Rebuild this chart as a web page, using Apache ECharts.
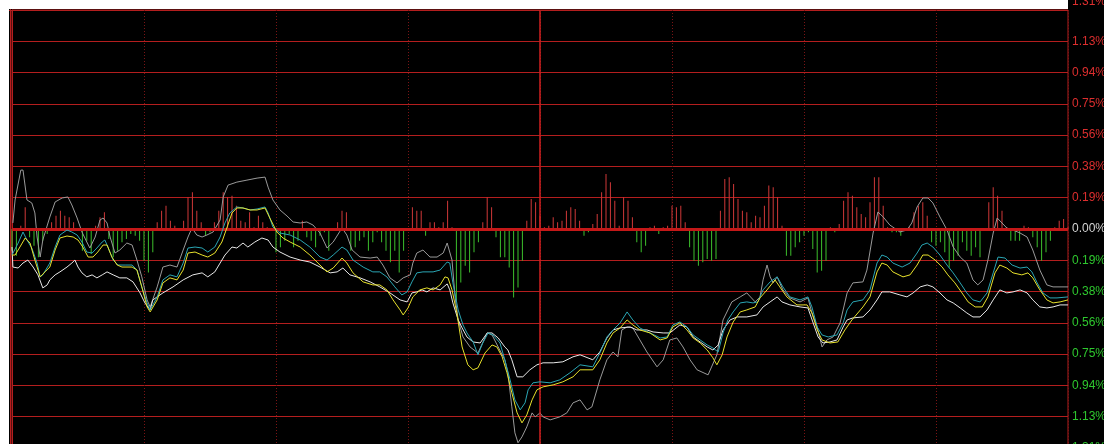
<!DOCTYPE html>
<html><head><meta charset="utf-8">
<script src="https://cdn.jsdelivr.net/npm/echarts@6/dist/echarts.min.js"></script>
<style>html,body{margin:0;padding:0;background:#000;overflow:hidden;}#c{width:1104px;height:444px;}</style>
</head><body><div id="c"></div>
<script>
// y-axis tick labels (percent, shown as magnitudes), top to bottom
const tickLabels = ['1.31%','1.13%','0.94%','0.75%','0.56%','0.38%','0.19%','0.00%','0.19%','0.38%','0.56%','0.75%','0.94%','1.13%','1.31%'];
const tickValues = [1.3125,1.125,0.9375,0.75,0.5625,0.375,0.1875,0,-0.1875,-0.375,-0.5625,-0.75,-0.9375,-1.125,-1.3125];

// per-minute bars (0..240)
const barValues = [
-.13,-.16,.02,.13,-.05,-.10,-.17,-.07,-.03,.04,.08,.11,.08,.07,.04,-.01,-.13,-.07,-.15,.02,
.07,.10,-.06,-.17,-.13,-.08,-.06,-.03,-.04,-.07,-.19,-.26,-.14,.04,.11,.14,.05,.02,-.01,.05,
.19,.22,.11,.04,-.04,-.02,.04,.11,.22,.19,.20,.14,.05,.04,.10,.01,.08,.04,.01,-.01,
-.14,-.11,-.07,-.03,-.11,-.07,.05,-.05,-.07,-.11,-.04,-.02,-.13,0,.04,.11,.10,-.13,-.11,-.07,
-.05,-.13,-.08,-.02,-.08,-.13,-.20,-.13,-.26,-.13,-.01,.13,.11,.11,-.04,.04,.04,.01,.04,.17,
.01,-.43,-.32,-.22,-.26,-.14,-.08,.04,.19,.13,-.05,-.17,-.17,-.23,-.41,-.35,-.19,.05,.18,.16,
.08,.01,.02,.07,.04,.05,.11,.13,.12,.05,-.04,-.02,.03,.09,.22,.33,.28,.17,.02,.19,
.17,.07,-.08,-.14,-.10,.01,.02,-.03,.01,.02,.14,.13,.14,.04,-.11,-.19,-.22,-.20,-.18,-.19,
-.18,.11,.30,.31,.27,.18,.11,.10,.04,.08,.07,.14,.26,.25,.19,.02,-.16,-.16,-.11,-.08,
-.04,-.02,-.12,-.26,-.25,-.19,.01,-.02,.03,.17,.22,.20,.13,.09,.07,.16,.31,.31,.14,.01,
-.02,-.02,-.04,-.01,.01,.10,.14,.16,.08,-.08,-.10,-.08,-.14,-.23,-.19,-.16,-.08,-.13,-.16,-.11,
-.17,-.01,.16,.25,.20,.11,.01,-.07,-.07,-.07,.02,.01,-.05,-.11,-.19,-.14,-.07,.01,.05,.06,
.01
];

const grayLine = [[0.2,.036],[0.7,.174],[2.0,.353],[2.5,.353],[3.4,.174],[4.5,.156],[5.2,.096],[5.7,-.048],[6.4,-.168],[7.0,-.066],[8.6,.072],[9.8,.162],[11.4,.186],[12.7,.192],[13.6,.144],[14.8,.066],[15.9,-.018],[17.0,-.078],[17.7,-.114],[18.9,-.048],[20.0,.054],[20.7,.066],[21.6,.036],[22.3,-.048],[23.4,-.144],[24.5,-.126],[26.1,-.084],[27.3,-.096],[28.4,-.186],[29.5,-.287],[30.7,-.425],[31.4,-.467],[33.0,-.347],[34.3,-.228],[35.9,-.216],[37.5,-.228],[38.9,-.126],[40.0,-.048],[40.9,.006],[42.0,-.036],[43.2,-.048],[44.3,-.036],[45.7,-.018],[47.3,.054],[48.0,.192],[49.1,.263],[51.1,.281],[53.4,.293],[55.7,.305],[57.5,.311],[58.2,.251],[59.3,.174],[60.9,.114],[62.5,.078],[63.9,.042],[65.5,.036],[67.0,.042],[68.4,.024],[70.0,-.024],[71.6,-.114],[73.0,-.078],[75.0,.006],[76.1,-.036],[77.3,-.126],[79.1,-.168],[81.4,-.174],[83.0,-.168],[84.3,-.216],[85.9,-.293],[87.5,-.323],[88.9,-.293],[90.5,-.275],[91.1,-.204],[92.0,-.144],[93.4,-.126],[95.0,-.168],[96.6,-.168],[98.0,-.144],[98.9,-.084],[100.0,-.186],[100.7,-.407],[101.4,-.545],[102.5,-.647],[104.1,-.707],[105.9,-.743],[108.0,-.623],[109.1,-.635],[110.5,-.707],[112.0,-.784],[112.7,-.862],[113.6,-1.066],[114.3,-1.222],[115.0,-1.281],[115.9,-1.246],[117.0,-1.186],[118.2,-1.102],[118.9,-1.126],[120.0,-1.102],[120.7,-1.126],[122.3,-1.144],[124.5,-1.126],[126.1,-1.102],[127.5,-1.042],[129.1,-1.024],[130.7,-1.084],[131.8,-1.066],[133.6,-.904],[135.2,-.784],[136.6,-.737],[137.7,-.766],[138.6,-.605],[139.8,-.587],[141.1,-.593],[142.7,-.665],[144.3,-.737],[146.6,-.826],[148.0,-.784],[149.5,-.665],[151.1,-.653],[152.5,-.707],[154.1,-.784],[155.7,-.844],[158.2,-.874],[160.2,-.754],[161.6,-.545],[163.6,-.437],[165.5,-.407],[167.0,-.383],[168.9,-.437],[170.0,-.407],[170.7,-.305],[171.6,-.216],[172.3,-.287],[173.0,-.323],[173.9,-.287],[175.2,-.365],[176.8,-.413],[179.1,-.437],[180.9,-.413],[181.8,-.503],[183.0,-.587],[184.1,-.707],[185.2,-.665],[186.6,-.647],[188.2,-.563],[189.8,-.383],[191.1,-.323],[193.4,-.317],[194.3,-.246],[195.7,-.024],[196.8,.102],[198.0,.072],[199.5,.024],[201.8,-.018],[203.4,-.006],[204.5,.036],[205.7,.132],[207.0,.186],[208.2,.186],[209.3,.156],[210.9,.072],[212.5,-.006],[213.9,-.108],[215.5,-.168],[217.0,-.204],[218.4,-.305],[219.5,-.335],[220.7,-.305],[221.8,-.186],[223.0,-.024],[223.9,.066],[225.0,.036],[226.1,.006],[227.5,-.006],[229.1,-.024],[230.7,-.048],[232.0,-.126],[233.6,-.246],[235.2,-.335],[236.6,-.347],[240,-.347]];

const whiteLine = [[0,-.108],[0.2,-.228],[1.4,-.234],[2.5,-.204],[3.6,-.186],[4.8,-.228],[5.9,-.275],[7.0,-.353],[8.0,-.335],[8.6,-.305],[9.8,-.275],[10.9,-.257],[12.5,-.228],[13.6,-.204],[14.3,-.186],[15.0,-.228],[15.9,-.263],[17.0,-.287],[18.2,-.275],[19.3,-.293],[20.5,-.275],[21.6,-.257],[23.0,-.275],[24.5,-.293],[26.1,-.293],[27.5,-.317],[29.1,-.383],[30.2,-.443],[31.4,-.485],[32.0,-.425],[34.3,-.383],[36.6,-.347],[38.9,-.305],[41.1,-.275],[43.2,-.263],[44.5,-.287],[46.1,-.257],[47.3,-.204],[48.4,-.156],[50.0,-.108],[51.1,-.114],[52.5,-.084],[53.6,-.108],[55.2,-.078],[56.8,-.054],[58.2,-.066],[59.3,-.108],[60.9,-.138],[63.2,-.168],[65.5,-.186],[67.7,-.198],[70.0,-.228],[72.3,-.263],[73.9,-.257],[75.2,-.234],[76.8,-.275],[79.1,-.293],[81.4,-.317],[83.6,-.347],[85.9,-.383],[88.2,-.425],[89.8,-.437],[90.9,-.383],[92.0,-.377],[93.2,-.365],[94.3,-.377],[95.7,-.353],[97.3,-.365],[98.9,-.329],[99.5,-.365],[100.2,-.443],[101.4,-.545],[102.3,-.593],[103.4,-.647],[104.8,-.677],[106.4,-.683],[108.0,-.623],[109.1,-.623],[110.5,-.653],[112.0,-.707],[112.7,-.725],[113.6,-.784],[114.8,-.886],[116.1,-.886],[117.7,-.844],[119.3,-.814],[120.7,-.802],[123.0,-.802],[125.2,-.796],[127.5,-.766],[129.1,-.754],[132.0,-.784],[133.6,-.737],[135.2,-.653],[136.6,-.605],[138.2,-.593],[140.5,-.587],[142.0,-.605],[144.3,-.605],[145.7,-.617],[148.0,-.623],[149.5,-.623],[151.8,-.575],[153.4,-.587],[154.8,-.647],[156.4,-.677],[158.0,-.707],[159.3,-.725],[160.5,-.695],[161.6,-.605],[163.2,-.545],[164.8,-.527],[167.0,-.527],[169.3,-.515],[170.7,-.467],[172.3,-.437],[173.9,-.407],[175.0,-.437],[176.8,-.455],[179.1,-.467],[180.9,-.473],[182.0,-.557],[183.2,-.647],[184.3,-.683],[185.9,-.677],[187.5,-.665],[188.9,-.587],[189.8,-.545],[191.1,-.533],[193.4,-.527],[195.0,-.485],[196.6,-.425],[197.7,-.377],[199.5,-.377],[201.8,-.395],[203.4,-.407],[204.8,-.383],[206.4,-.347],[208.0,-.335],[209.3,-.347],[210.9,-.383],[212.5,-.425],[213.9,-.443],[215.5,-.473],[217.0,-.503],[218.4,-.527],[220.0,-.527],[221.6,-.485],[223.0,-.425],[224.5,-.365],[226.1,-.383],[227.5,-.377],[229.1,-.365],[230.7,-.383],[232.0,-.425],[233.6,-.467],[235.2,-.473],[236.6,-.467],[238.2,-.455],[240,-.455]];

const cyanLine = [[0,-.156],[1.4,-.084],[2.5,-.018],[3.4,-.066],[4.5,-.114],[5.7,-.204],[6.4,-.287],[7.0,-.275],[8.6,-.204],[9.8,-.108],[10.9,-.036],[12.5,-.006],[13.6,-.018],[14.8,-.036],[15.9,-.078],[17.0,-.138],[18.2,-.144],[19.3,-.114],[20.5,-.078],[21.1,-.066],[21.8,-.108],[23.0,-.186],[24.1,-.216],[25.7,-.216],[27.3,-.216],[28.4,-.246],[29.5,-.347],[30.7,-.443],[31.4,-.485],[33.0,-.407],[34.3,-.305],[35.9,-.275],[37.5,-.287],[38.9,-.204],[40.0,-.114],[41.6,-.108],[43.2,-.114],[44.5,-.138],[46.1,-.108],[47.3,-.048],[48.4,.036],[49.5,.096],[51.1,.132],[52.5,.126],[54.1,.114],[55.7,.120],[57.5,.132],[58.2,.096],[59.3,.012],[60.9,-.024],[63.2,-.036],[65.5,-.066],[67.7,-.108],[70.0,-.168],[71.6,-.186],[73.0,-.156],[75.0,-.108],[76.1,-.126],[77.5,-.186],[79.8,-.228],[82.0,-.257],[83.6,-.257],[85.2,-.287],[87.0,-.347],[88.6,-.395],[89.8,-.377],[90.9,-.317],[92.0,-.263],[93.4,-.257],[95.7,-.257],[97.3,-.246],[98.9,-.198],[99.5,-.204],[100.2,-.323],[101.4,-.485],[102.5,-.575],[103.4,-.623],[104.8,-.677],[105.9,-.754],[107.0,-.683],[108.2,-.623],[109.3,-.635],[110.9,-.683],[112.0,-.784],[113.2,-.904],[114.3,-1.024],[115.5,-1.084],[116.6,-1.042],[117.3,-.964],[118.4,-.922],[120.0,-.916],[122.3,-.922],[124.5,-.904],[126.8,-.862],[129.1,-.814],[132.0,-.826],[133.6,-.743],[135.2,-.647],[136.6,-.605],[138.2,-.563],[139.8,-.497],[141.1,-.545],[142.7,-.593],[145.0,-.623],[147.3,-.653],[148.9,-.647],[150.2,-.575],[151.8,-.557],[153.4,-.587],[154.8,-.635],[156.4,-.665],[158.0,-.695],[159.3,-.713],[160.5,-.737],[161.6,-.623],[162.7,-.545],[163.9,-.497],[165.5,-.443],[167.0,-.437],[168.4,-.443],[169.5,-.437],[170.7,-.365],[172.3,-.317],[173.9,-.287],[175.2,-.347],[176.8,-.407],[179.1,-.425],[180.9,-.407],[181.8,-.467],[183.0,-.587],[184.1,-.635],[185.5,-.647],[187.5,-.635],[188.9,-.563],[189.8,-.485],[191.1,-.437],[193.4,-.425],[195.0,-.365],[196.6,-.204],[197.7,-.156],[198.9,-.168],[200.2,-.204],[202.3,-.228],[204.1,-.204],[205.7,-.144],[206.8,-.096],[208.0,-.084],[209.3,-.108],[210.9,-.156],[212.5,-.216],[213.9,-.263],[215.5,-.323],[217.0,-.383],[218.4,-.425],[220.0,-.437],[221.6,-.383],[223.0,-.263],[224.1,-.168],[225.7,-.174],[227.3,-.216],[229.1,-.234],[230.7,-.228],[231.8,-.257],[233.0,-.323],[234.3,-.383],[235.9,-.413],[237.5,-.413],[240,-.407]];

const yellowLine = [[0,-.156],[0.7,-.156],[1.8,-.108],[3.0,-.054],[4.1,-.084],[5.2,-.186],[6.4,-.287],[7.5,-.257],[8.6,-.228],[9.8,-.126],[10.9,-.054],[12.5,-.042],[13.9,-.048],[15.0,-.066],[16.1,-.108],[17.3,-.168],[18.4,-.168],[19.5,-.138],[20.7,-.096],[21.6,-.096],[22.7,-.168],[23.9,-.216],[25.0,-.228],[27.3,-.228],[28.4,-.246],[29.5,-.347],[30.7,-.467],[31.4,-.497],[33.0,-.425],[34.3,-.323],[35.9,-.293],[37.5,-.305],[38.9,-.246],[40.0,-.144],[41.6,-.138],[43.2,-.156],[44.5,-.168],[46.1,-.144],[47.7,-.078],[48.9,.012],[50.0,.096],[51.1,.126],[52.5,.126],[54.1,.114],[55.7,.114],[57.5,.126],[58.6,.066],[60.2,-.018],[61.6,-.054],[63.2,-.078],[65.5,-.108],[67.7,-.156],[70.0,-.216],[71.6,-.257],[73.0,-.234],[75.0,-.174],[76.1,-.204],[77.5,-.263],[79.8,-.317],[82.0,-.335],[83.6,-.335],[85.2,-.365],[86.6,-.425],[88.2,-.485],[88.9,-.515],[90.0,-.473],[91.1,-.407],[92.7,-.365],[94.3,-.353],[95.7,-.365],[97.3,-.335],[98.4,-.287],[99.1,-.293],[100.0,-.365],[101.1,-.503],[102.3,-.707],[103.6,-.814],[104.8,-.844],[105.9,-.832],[107.5,-.743],[109.1,-.695],[110.2,-.707],[111.4,-.766],[112.5,-.862],[113.6,-.982],[114.8,-1.102],[115.9,-1.162],[117.0,-1.114],[118.2,-1.024],[119.3,-.964],[120.7,-.946],[123.0,-.934],[125.2,-.916],[127.5,-.886],[129.1,-.844],[132.0,-.844],[133.6,-.784],[135.2,-.683],[136.6,-.623],[138.2,-.593],[139.8,-.545],[141.1,-.575],[142.7,-.605],[145.0,-.623],[147.3,-.665],[148.9,-.653],[150.2,-.587],[151.8,-.563],[153.4,-.605],[154.8,-.653],[156.4,-.683],[158.0,-.725],[159.3,-.772],[160.2,-.814],[161.4,-.754],[162.5,-.647],[163.9,-.557],[165.5,-.497],[167.0,-.485],[168.9,-.467],[170.0,-.413],[171.6,-.365],[173.4,-.305],[174.5,-.347],[176.1,-.407],[178.4,-.455],[180.7,-.455],[181.8,-.503],[183.0,-.605],[184.1,-.665],[185.9,-.683],[187.7,-.677],[189.3,-.605],[190.9,-.545],[193.4,-.467],[195.0,-.407],[196.6,-.257],[197.7,-.204],[198.9,-.216],[200.2,-.257],[202.5,-.287],[204.1,-.275],[205.7,-.216],[207.0,-.156],[208.2,-.156],[209.8,-.186],[211.4,-.228],[212.7,-.275],[214.3,-.323],[215.9,-.383],[217.3,-.437],[218.9,-.467],[220.5,-.467],[221.8,-.407],[223.4,-.263],[224.5,-.216],[226.1,-.234],[227.5,-.263],[229.5,-.275],[230.9,-.263],[232.0,-.293],[233.6,-.365],[235.2,-.425],[236.6,-.443],[238.2,-.437],[240,-.425]];

const barData = barValues.map((v, i) => [i, v]);
const labelMap = {};
tickValues.forEach((v, i) => { labelMap[v.toFixed(4)] = tickLabels[i]; });

const chart = echarts.init(document.getElementById('c'), null, {renderer: 'canvas'});
chart.setOption({
  backgroundColor: '#000',
  animation: false,
  grid: {left: 12, right: 36, top: 10, height: 438, outerBoundsMode: 'none', containLabel: false,
         show: true, borderColor: '#b41e1e', borderWidth: 1, backgroundColor: '#000'},
  xAxis: {
    type: 'value', min: 0, max: 240, interval: 30,
    axisLine: {show: false}, axisTick: {show: false}, axisLabel: {show: false},
    splitLine: {show: true, lineStyle: {color: '#7a1414', type: [1, 2], width: 1}}
  },
  yAxis: {
    type: 'value', position: 'right', min: -1.3125, max: 1.3125, interval: 0.1875,
    axisLine: {show: true, lineStyle: {color: '#b41e1e'}},
    axisTick: {show: false},
    splitLine: {show: true, lineStyle: {color: '#b41e1e', width: 1}},
    axisLabel: {
      margin: 4, fontSize: 12, fontFamily: 'Liberation Sans, Arial, sans-serif',
      formatter: function (v) {
        const t = labelMap[v.toFixed(4)] || '';
        if (v > 1.3) return '{top|' + t + '}';
        return t;
      },
      rich: {top: {color: '#dc2e2e', fontSize: 12, padding: [0, 0, 16, 0]}},
      color: function (v) { v = Number(v); return v > 0.001 ? '#dc2e2e' : (v < -0.001 ? '#2ec82e' : '#d4d4d4'); }
    }
  },
  graphic: [
    {type: 'rect', shape: {x: 0, y: 0, width: 1068, height: 9}, style: {fill: '#fff'}, z: 100},
    {type: 'rect', shape: {x: 0, y: 0, width: 9, height: 444}, style: {fill: '#fff'}, z: 100},
    {type: 'line', shape: {x1: 10.5, y1: 9, x2: 10.5, y2: 444}, style: {stroke: '#b41e1e', lineWidth: 1}, z: 100},
    {type: 'line', shape: {x1: 9, y1: 10.5, x2: 12, y2: 10.5}, style: {stroke: '#b41e1e', lineWidth: 1}, z: 100}
  ],
  series: [
    {
      type: 'bar', data: barData, barWidth: 1, silent: true,
      itemStyle: {color: function (p) { return p.value[1] >= 0 ? '#d03838' : '#3cbf2c'; }},
      markLine: {
        silent: true, symbol: 'none', label: {show: false},
        data: [
          {yAxis: 0, lineStyle: {color: '#c41818', width: 3, type: 'solid'}},
          {xAxis: 120, lineStyle: {color: '#d02020', width: 1.5, type: 'solid'}}
        ]
      }
    },
    {type: 'line', data: grayLine, showSymbol: false, symbol: 'none', lineStyle: {color: '#9a9a9a', width: 1}, z: 3},
    {type: 'line', data: whiteLine, showSymbol: false, symbol: 'none', lineStyle: {color: '#e8e8e8', width: 1}, z: 4},
    {type: 'line', data: cyanLine, showSymbol: false, symbol: 'none', lineStyle: {color: '#2aa6b4', width: 1}, z: 5},
    {type: 'line', data: yellowLine, showSymbol: false, symbol: 'none', lineStyle: {color: '#e8e22c', width: 1}, z: 6}
  ]
});
</script></body></html>
